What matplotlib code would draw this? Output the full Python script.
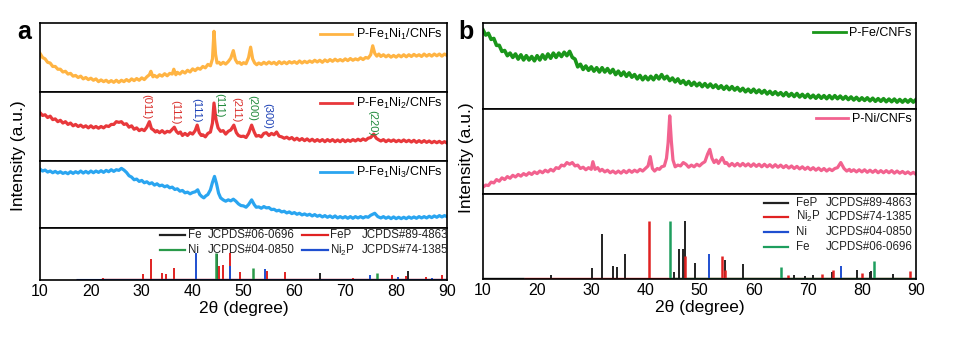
import matplotlib
matplotlib.use('Agg')
import matplotlib.pyplot as plt

plt.rcParams['font.family'] = ['Liberation Sans', 'DejaVu Sans']
plt.rcParams['mathtext.fontset'] = 'custom'
plt.rcParams['mathtext.rm'] = 'Liberation Sans'
plt.rcParams['mathtext.it'] = 'Liberation Sans:italic'
plt.rcParams['mathtext.bf'] = 'Liberation Sans:bold'

# ---------------- data (2theta in degrees, intensity in % of sub-panel) ----------------
x_ticks = [10, 20, 30, 40, 50, 60, 70, 80, 90]

# panel a
fe1ni1 = [(10, 56), (10.5, 50), (11, 48), (11.5, 43), (12, 42), (12.5, 37), (13, 37), (13.5, 33), (14, 33),
          (14.5, 29), (15, 30), (15.5, 26), (16, 27), (16.5, 23), (17, 24), (17.5, 21), (18, 23), (18.5, 19),
          (19, 21), (19.5, 18), (20, 20), (20.5, 17), (21, 19), (21.5, 15), (22, 17.5), (22.5, 15), (23, 17),
          (23.5, 14), (24, 16.5), (24.5, 14), (25, 17), (25.5, 14), (26, 17), (26.5, 15), (27, 18),
          (27.5, 15.5), (28, 19), (28.5, 16.5), (29, 19.5), (29.5, 17), (30, 20.5), (30.5, 18), (31, 22),
          (31.5, 25), (31.8, 30), (32.2, 22), (32.5, 24), (33, 21.5), (33.5, 25), (34, 23), (34.5, 26.5),
          (35, 23.5), (35.5, 27), (36, 26), (36.3, 33), (36.7, 25), (37, 28.5), (37.5, 26), (38, 30),
          (38.5, 27.5), (39, 31.5), (39.5, 29), (40, 33.5), (40.5, 31), (41, 34.5), (41.5, 33), (42, 37),
          (42.5, 35), (43, 40), (43.5, 38), (43.9, 48), (44.2, 88), (44.5, 55), (44.8, 42), (45.2, 43),
          (45.5, 40), (46, 43), (46.5, 40.5), (47, 44), (47.5, 49), (48.0, 60), (48.4, 47), (48.8, 42),
          (49.2, 43), (49.6, 40), (50, 42.5), (50.5, 41), (51.0, 50), (51.4, 65), (51.8, 48), (52.2, 42),
          (52.6, 39.5), (53, 42), (53.5, 40), (54, 43), (54.5, 40.5), (55, 43.5), (55.5, 41), (56, 43),
          (56.5, 40), (57, 44), (57.5, 41), (58, 43.5), (58.5, 41), (59, 44), (59.5, 42), (60, 44),
          (60.5, 41.5), (61, 45), (61.5, 42), (62, 44.5), (62.5, 42.5), (63, 45), (63.5, 43), (64, 46),
          (64.5, 43.5), (65, 46), (65.5, 43), (66, 46.5), (66.5, 44), (67, 47), (67.5, 44.5), (68, 47.5),
          (68.5, 45), (69, 47), (69.5, 45), (70, 48), (70.5, 45.5), (71, 48.5), (71.5, 46), (72, 48),
          (72.5, 46.5), (73, 49.5), (73.5, 47), (74, 50), (74.5, 49), (75, 54), (75.4, 67), (75.8, 56),
          (76.2, 52), (76.6, 55), (77, 51.5), (77.5, 54), (78, 51), (78.5, 53.5), (79, 50.5), (79.5, 53),
          (80, 50.5), (80.5, 53.5), (81, 51), (81.5, 54), (82, 51), (82.5, 54), (83, 51.5), (83.5, 54.5),
          (84, 52), (84.5, 54), (85, 51.5), (85.5, 55), (86, 52), (86.5, 54.5), (87, 52), (87.5, 55),
          (88, 52.5), (88.5, 55), (89, 52), (89.5, 55), (90, 53)]

fe1ni2 = [(10, 70), (10.5, 66), (11, 67), (11.5, 63), (12, 65), (12.5, 60), (13, 61), (13.5, 57), (14, 59),
          (14.5, 55), (15, 57), (15.5, 53), (16, 55), (16.5, 51), (17, 53), (17.5, 50), (18, 52), (18.5, 49),
          (19, 51), (19.5, 48), (20, 51), (20.5, 48), (21, 50), (21.5, 47.5), (22, 50), (22.5, 48), (23, 51),
          (23.5, 50), (24, 53), (24.5, 53), (25, 57), (25.5, 56), (26, 57), (26.5, 53), (27, 54), (27.5, 49),
          (28, 51), (28.5, 46), (29, 48), (29.5, 44), (30, 46), (30.5, 44), (31, 49), (31.5, 57), (31.9, 47),
          (32.3, 45), (32.7, 42), (33, 44), (33.5, 41), (34, 44), (34.5, 40.5), (35, 43), (35.5, 42),
          (36, 46), (36.4, 49), (36.8, 43), (37.2, 40), (37.6, 42), (38, 37), (38.5, 40), (39, 37),
          (39.5, 41), (40, 39), (40.5, 44), (40.9, 52), (41.3, 41), (41.7, 37), (42, 38), (42.5, 35),
          (43, 40), (43.5, 42), (43.9, 55), (44.2, 84), (44.6, 60), (45, 48), (45.5, 43), (46, 44),
          (46.5, 39), (47, 43), (47.5, 45), (48.1, 52), (48.6, 41), (49, 37), (49.5, 35.5), (50, 36),
          (50.5, 34), (51, 40), (51.6, 52), (52.1, 42), (52.5, 36), (53, 37), (53.5, 35), (54, 40),
          (54.5, 41), (55, 37), (55.5, 40), (56, 38), (56.5, 42), (57, 36), (57.5, 35), (58, 33),
          (58.5, 34.5), (59, 32), (59.5, 34), (60, 30.5), (60.5, 33), (61, 30), (61.5, 32.5), (62, 29.5),
          (62.5, 32), (63, 29), (63.5, 31.5), (64, 28.5), (64.5, 31), (65, 28.5), (65.5, 31), (66, 28),
          (66.5, 31), (67, 28.5), (67.5, 31), (68, 28), (68.5, 30.5), (69, 28), (69.5, 31), (70, 28),
          (70.5, 30.5), (71, 28.5), (71.5, 31), (72, 29), (72.5, 31.5), (73, 29.5), (73.5, 32), (74, 30),
          (74.5, 33), (75, 34), (75.6, 39), (76.1, 33), (76.5, 31), (77, 29), (77.5, 31), (78, 28),
          (78.5, 30.5), (79, 28.5), (79.5, 30.5), (80, 28), (80.5, 30), (81, 28), (81.5, 30.5), (82, 28),
          (82.5, 30), (83, 27.5), (83.5, 30), (84, 27), (84.5, 29.5), (85, 27), (85.5, 29.5), (86, 27),
          (86.5, 29), (87, 26.5), (87.5, 28.5), (88, 26.5), (88.5, 28.5), (89, 26), (89.5, 28), (90, 26)]

fe1ni3 = [(10, 88), (10.5, 85), (11, 86.5), (11.5, 83.5), (12, 85), (12.5, 82.5), (13, 84.5), (13.5, 82),
          (14, 84), (14.5, 81.5), (15, 83), (15.5, 81), (16, 84), (16.5, 81.5), (17, 84), (17.5, 82),
          (18, 85), (18.5, 82), (19, 84.5), (19.5, 82), (20, 85), (20.5, 82.5), (21, 85), (21.5, 83),
          (22, 85.5), (22.5, 83), (23, 86), (23.5, 84), (24, 87), (24.5, 84.5), (25, 87), (25.5, 86),
          (26, 89), (26.5, 86.5), (27, 83), (27.5, 78), (28, 76), (28.5, 72), (29, 73), (29.5, 69.5),
          (30, 71), (30.5, 67.5), (31, 69), (31.5, 66), (32, 67.5), (32.5, 64), (33, 66), (33.5, 63),
          (34, 64), (34.5, 61.5), (35, 63), (35.5, 60), (36, 61), (36.5, 57.5), (37, 58.5), (37.5, 55),
          (38, 56), (38.5, 52.5), (39, 53.5), (39.5, 51), (40, 53), (40.5, 54), (41, 57), (41.4, 50),
          (41.8, 47), (42.2, 45), (42.6, 48), (43, 50), (43.5, 57), (43.9, 68), (44.3, 77), (44.7, 66),
          (45.1, 52), (45.5, 45), (46, 42), (46.5, 40), (47, 42), (47.5, 40.5), (48, 43), (48.5, 40),
          (49, 36), (49.5, 33.5), (50, 33), (50.5, 31), (51, 35), (51.6, 42), (52.1, 35), (52.5, 31),
          (53, 31.5), (53.5, 29.5), (54, 32), (54.5, 30), (55, 30.5), (55.5, 27.5), (56, 28), (56.5, 25.5),
          (57, 26.5), (57.5, 24), (58, 25), (58.5, 22.5), (59, 24), (59.5, 21.5), (60, 23), (60.5, 20.5),
          (61, 22), (61.5, 19.5), (62, 21), (62.5, 19), (63, 20.5), (63.5, 18), (64, 20), (64.5, 17.5),
          (65, 19), (65.5, 16.5), (66, 18.5), (66.5, 16), (67, 18), (67.5, 15.5), (68, 18), (68.5, 15),
          (69, 17), (69.5, 15), (70, 17), (70.5, 14.5), (71, 17), (71.5, 14.5), (72, 17), (72.5, 15),
          (73, 17), (73.5, 15), (74, 17), (74.5, 16), (75, 19), (75.8, 22), (76.4, 17), (77, 15),
          (77.5, 17), (78, 14.5), (78.5, 16.5), (79, 14), (79.5, 16.5), (80, 14), (80.5, 16), (81, 14),
          (81.5, 16), (82, 14), (82.5, 16.5), (83, 14.5), (83.5, 16.5), (84, 14.5), (84.5, 17), (85, 15),
          (85.5, 17), (86, 15), (86.5, 17.5), (87, 15.5), (87.5, 18), (88, 16), (88.5, 18.5), (89, 16.5),
          (89.5, 18.5), (90, 17)]

# reference sticks, panel a: (2theta, relative height %)
a_fe_sticks = [(44.7, 50), (65.0, 12.8), (82.4, 16)]
a_fep_sticks = [(22.4, 2), (30.2, 11), (31.9, 40), (34.0, 12.8), (34.7, 11), (36.3, 22), (45.2, 25.6),
                (46.0, 27), (47.3, 51), (49.3, 15), (54.7, 16), (58.1, 14), (71.5, 2), (79.2, 8),
                (81.9, 6), (85.9, 4), (89.1, 7.7)]
a_ni_sticks = [(44.5, 51), (51.9, 22), (76.3, 11.5)]
a_ni2p_sticks = [(40.65, 51), (47.35, 25), (54.2, 20), (74.8, 8), (80.3, 5), (87.0, 3)]

# hkl labels in panel a
hkl_labels = ["(011)", "(111)", "(111)", "(111)", "(211)", "(200)", "(300)", "(220)"]
hkl_x = [30.8, 36.5, 40.7, 45.3, 48.5, 51.8, 54.6, 75.4]
hkl_top = [97, 88, 91, 99, 93, 96, 84, 74]
hkl_phase = ["FeP", "FeP", "Ni2P", "Ni", "FeP", "Ni", "Ni2P", "Ni"]

# panel b
p_fe = [(10, 92), (10.5, 86), (11, 88), (11.5, 81), (12, 82), (12.5, 74), (13, 74), (13.5, 67), (14, 68),
        (14.5, 62), (15, 65), (15.5, 60), (16, 64), (16.5, 58), (17, 63), (17.5, 57), (18, 62), (18.5, 57),
        (19, 61), (19.5, 56), (20, 62), (20.5, 57), (21, 63), (21.5, 58), (22, 64), (22.5, 59), (23, 65),
        (23.5, 60), (24, 65), (24.5, 61), (25, 66), (25.5, 62), (26, 67), (26.5, 60), (27, 58), (27.5, 49),
        (28, 52), (28.5, 46), (29, 50), (29.5, 45), (30, 49), (30.5, 44), (31, 48), (31.5, 43), (32, 48),
        (32.5, 43), (33, 47), (33.5, 42), (34, 46), (34.5, 40), (35, 44), (35.5, 39), (36, 43), (36.5, 38),
        (37, 42), (37.5, 37), (38, 40), (38.5, 35), (39, 39), (39.5, 34), (40, 38), (40.5, 34), (41, 38),
        (41.5, 34), (42, 39), (42.5, 35), (43, 40), (43.5, 35), (44, 38), (44.5, 33), (45, 36),
        (45.5, 31.5), (46, 35), (46.5, 30), (47, 33), (47.5, 28.5), (48, 32), (48.5, 27.5), (49, 31),
        (49.5, 27), (50, 30), (50.5, 26), (51, 29.5), (51.5, 25.5), (52, 29), (52.5, 25), (53, 28),
        (53.5, 24), (54, 27), (54.5, 23), (55, 26.5), (55.5, 22.5), (56, 26), (56.5, 22), (57, 25),
        (57.5, 21), (58, 24), (58.5, 20), (59, 23), (59.5, 19.5), (60, 23), (60.5, 19), (61, 22),
        (61.5, 18.5), (62, 21.5), (62.5, 17.5), (63, 20.5), (63.5, 17), (64, 20), (64.5, 16.5), (65, 19),
        (65.5, 15.5), (66, 19), (66.5, 15), (67, 18), (67.5, 14.5), (68, 18), (68.5, 14), (69, 17),
        (69.5, 13.5), (70, 17), (70.5, 13), (71, 16), (71.5, 12.5), (72, 16), (72.5, 12.5), (73, 15.5),
        (73.5, 12), (74, 15.5), (74.5, 12), (75, 15.5), (75.5, 12), (76, 15), (76.5, 11.5), (77, 14.5),
        (77.5, 11), (78, 14), (78.5, 10.5), (79, 13.5), (79.5, 10), (80, 13), (80.5, 10), (81, 13),
        (81.5, 9.5), (82, 12.5), (82.5, 9), (83, 12), (83.5, 9), (84, 12), (84.5, 8.5), (85, 11.5),
        (85.5, 8.5), (86, 11.5), (86.5, 8), (87, 11), (87.5, 8), (88, 11), (88.5, 8), (89, 11), (89.5, 8),
        (90, 11)]

p_ni = [(10, 8), (10.5, 10.5), (11, 10), (11.5, 14), (12, 13), (12.5, 17), (13, 15), (13.5, 19), (14, 17),
        (14.5, 20.5), (15, 18.5), (15.5, 22), (16, 20), (16.5, 23), (17, 21), (17.5, 24), (18, 22),
        (18.5, 25), (19, 23), (19.5, 26), (20, 24), (20.5, 27), (21, 25), (21.5, 28), (22, 26), (22.5, 29),
        (23, 27), (23.5, 31), (24, 30), (24.5, 34), (25, 33), (25.5, 37), (26, 35), (26.5, 37), (27, 33),
        (27.5, 34), (28, 30), (28.5, 31.5), (29, 28.5), (29.5, 31), (30, 29), (30.3, 38), (30.7, 29),
        (31.2, 31), (31.6, 27), (32, 29), (32.5, 26), (33, 28), (33.5, 25), (34, 27), (34.5, 24.5),
        (35, 27), (35.5, 24.5), (36, 27.5), (36.5, 25), (37, 28), (37.5, 25.5), (38, 28), (38.5, 26),
        (39, 29), (39.5, 27), (40, 30), (40.5, 33), (40.9, 44), (41.3, 30), (41.7, 27), (42.2, 30),
        (42.6, 29), (43, 32), (43.5, 33), (43.9, 42), (44.2, 60), (44.5, 92), (44.8, 62), (45.1, 40),
        (45.5, 32), (46, 34), (46.5, 33), (47, 37), (47.5, 35), (48, 31.5), (48.5, 34), (49, 32),
        (49.5, 35), (50, 33), (50.5, 36), (51, 38), (51.5, 47), (51.9, 52.5), (52.3, 42), (52.7, 37),
        (53.1, 40), (53.5, 36), (54.2, 43), (54.7, 36), (55, 37), (55.5, 33), (56, 36), (56.5, 33),
        (57, 36), (57.5, 33), (58, 36), (58.5, 33), (59, 35.5), (59.5, 32.5), (60, 35.5), (60.5, 32.5),
        (61, 35), (61.5, 32), (62, 35), (62.5, 32), (63, 34.5), (63.5, 31.5), (64, 34.5), (64.5, 31.5),
        (65, 34), (65.5, 31), (66, 33.5), (66.5, 30.5), (67, 33), (67.5, 30), (68, 32.5), (68.5, 29.5),
        (69, 32), (69.5, 29), (70, 31.5), (70.5, 28.5), (71, 31), (71.5, 28), (72, 30.5), (72.5, 27.5),
        (73, 30), (73.5, 27), (74, 29.5), (74.5, 27.5), (75, 30), (75.5, 31), (76.1, 37), (76.7, 30),
        (77.2, 27), (77.7, 29), (78, 26.5), (78.5, 28.5), (79, 26), (79.5, 28.5), (80, 26), (80.5, 28.5),
        (81, 25.5), (81.5, 28), (82, 25.5), (82.5, 28), (83, 25), (83.5, 27.5), (84, 25), (84.5, 27.5),
        (85, 25), (85.5, 27.5), (86, 24.5), (86.5, 27), (87, 24.5), (87.5, 26.5), (88, 24), (88.5, 26),
        (89, 23.5), (89.5, 25.5), (90, 23)]

b_fep_sticks = [(22.6, 4), (30.1, 11.8), (31.9, 51.8), (34.0, 14.5), (34.7, 12.5), (36.3, 29), (45.2, 6.7),
                (46.2, 34), (46.9, 35), (47.4, 67.5), (49.2, 17.6), (54.7, 21), (58.0, 16.5), (67.5, 3),
                (69.5, 2.5), (71.0, 3), (74.5, 6.7), (79.1, 9.8), (81.5, 6.7), (81.7, 7.8), (85.7, 4.7)]
b_ni2p_sticks = [(40.7, 67.5), (47.3, 26), (54.1, 26), (54.8, 9.4), (66.3, 4), (72.6, 4.7), (74.6, 9.8),
                 (80.1, 5.9), (88.8, 7.8)]
b_ni_sticks = [(51.8, 29), (76.2, 14.5)]
b_fe_sticks = [(44.6, 67.5), (65.0, 13.3), (82.3, 20)]

a_ref_names = ["Fe", "FeP", "Ni", "Ni$_2$P"]
a_ref_cards = ["JCPDS#06-0696", "JCPDS#89-4863", "JCPDS#04-0850", "JCPDS#74-1385"]
b_ref_names = ["FeP", "Ni$_2$P", "Ni", "Fe"]
b_ref_cards = ["JCPDS#89-4863", "JCPDS#74-1385", "JCPDS#04-0850", "JCPDS#06-0696"]

# ---------------- styles ----------------
C_ORANGE = '#FFB443'
C_RED = '#E8383B'
C_BLUE = '#2AA5F0'
C_GREEN = '#1A961A'
C_PINK = '#F2628F'
S_BLACK = '#222222'
S_RED = '#E02222'
S_GREEN_A = '#2A9A4A'
S_BLUE = '#1F4FD0'
S_GREEN_B = '#1E9E5E'
HKL_COL = {"FeP": '#D9302C', "Ni2P": '#1A3FB5', "Ni": '#218A3C'}

W, H = 955, 338
fig = plt.figure(figsize=(W / 100, H / 100), dpi=100)


def add_ax(x0, x1, y0, y1):
    ax = fig.add_axes([x0 / W, 1 - y1 / H, (x1 - x0) / W, (y1 - y0) / H])
    ax.set_xlim(10, 90)
    ax.set_yticks([])
    ax.set_xticks(x_ticks)
    ax.tick_params(axis='x', length=0, labelbottom=False, labelsize=11.5, pad=3)
    for s in ax.spines.values():
        s.set_linewidth(1.2)
    return ax


def unzip(pairs):
    return [p[0] for p in pairs], [p[1] for p in pairs]


def draw_series(ax, data, color, label, lw=2.3):
    xs, ys = unzip(data)
    ax.plot(xs, ys, color=color, lw=lw, solid_joinstyle='round', label=label)
    ax.set_ylim(0, 100)
    leg = ax.legend(loc='upper right', frameon=False, fontsize=9, handlelength=2.6,
                    handletextpad=0.3, borderaxespad=0.15, borderpad=0.2)
    for h in leg.legend_handles:
        h.set_linewidth(2.0)


def draw_sticks(ax, sticks, color, lw=1.4):
    xs, hs = unzip(sticks)
    ax.vlines(xs, 0, hs, color=color, lw=lw)


def manual_legend(ax, rows_y, cols, names, cards, colors):
    for i, (nm, cd, col) in enumerate(zip(names, cards, colors)):
        ry = rows_y[i]
        hx0, hx1, nx, cx = cols[i]
        ax.plot([hx0, hx1], [ry, ry], color=col, lw=1.6, transform=ax.transAxes, clip_on=False)
        ax.text(nx, ry, nm, transform=ax.transAxes, fontsize=8.3, va='center', ha='left', color='#222222')
        ax.text(cx, ry, cd, transform=ax.transAxes, fontsize=8.3, va='center', ha='left', color='#222222')


# ---------------- panel a ----------------
LA, RA = 40, 447
a1 = add_ax(LA, RA, 23, 92)
draw_series(a1, fe1ni1, C_ORANGE, 'P-Fe$_1$Ni$_1$/CNFs')
a2 = add_ax(LA, RA, 92, 161)
draw_series(a2, fe1ni2, C_RED, 'P-Fe$_1$Ni$_2$/CNFs')
for t, x, yt, ph in zip(hkl_labels, hkl_x, hkl_top, hkl_phase):
    a2.text(x, yt, t, rotation=270, ha='center', va='top', fontsize=8, color=HKL_COL[ph])
a3 = add_ax(LA, RA, 161, 228)
draw_series(a3, fe1ni3, C_BLUE, 'P-Fe$_1$Ni$_3$/CNFs')
a4 = add_ax(LA, RA, 228, 280)
a4.set_ylim(-1.5, 100)
a4.hlines(0, 22, 90, color=S_RED, lw=1.0)
a4.hlines(0, 17, 90, color=S_BLUE, lw=0.8)
draw_sticks(a4, a_fep_sticks, S_RED)
draw_sticks(a4, a_ni2p_sticks, S_BLUE)
draw_sticks(a4, a_fe_sticks, S_BLACK)
draw_sticks(a4, a_ni_sticks, S_GREEN_A, lw=1.8)
a4.tick_params(axis='x', labelbottom=True)
a4.set_xlabel('2\u03b8 (degree)', fontsize=12.5, labelpad=1)
manual_legend(a4, [0.865, 0.865, 0.577, 0.577],
              [(0.295, 0.356, 0.364, 0.413), (0.644, 0.708, 0.713, 0.791),
               (0.295, 0.356, 0.364, 0.413), (0.644, 0.708, 0.713, 0.791)],
              a_ref_names, a_ref_cards, [S_BLACK, S_RED, S_GREEN_A, S_BLUE])

# ---------------- panel b ----------------
LB, RB = 483, 916
b1 = add_ax(LB, RB, 23, 109)
draw_series(b1, p_fe, C_GREEN, 'P-Fe/CNFs', lw=2.6)
b2 = add_ax(LB, RB, 109, 194)
draw_series(b2, p_ni, C_PINK, 'P-Ni/CNFs')
b3 = add_ax(LB, RB, 194, 279)
b3.set_ylim(-1.2, 100)
b3.hlines(0, 10, 17.5, color=S_BLACK, lw=1.0)
b3.hlines(0, 17.5, 90, color=S_RED, lw=1.0)
b3.hlines(0, 44.6, 90, color=S_GREEN_B, lw=1.0)
draw_sticks(b3, b_fep_sticks, S_BLACK)
draw_sticks(b3, b_ni2p_sticks, S_RED, lw=1.8)
draw_sticks(b3, b_ni_sticks, S_BLUE)
draw_sticks(b3, b_fe_sticks, S_GREEN_B, lw=1.8)
b3.tick_params(axis='x', labelbottom=True)
b3.set_xlabel('2\u03b8 (degree)', fontsize=12.5, labelpad=1)
manual_legend(b3, [0.898, 0.733, 0.55, 0.38],
              [(0.649, 0.704, 0.722, 0.792)] * 4,
              b_ref_names, b_ref_cards, [S_BLACK, S_RED, S_BLUE, S_GREEN_B])

# ---------------- labels ----------------
fig.text(18 / W, 1 - 156 / H, 'Intensity (a.u.)', rotation=90, ha='center', va='center', fontsize=12.5)
fig.text(466 / W, 1 - 158 / H, 'Intensity (a.u.)', rotation=90, ha='center', va='center', fontsize=12.5)
fig.text(24 / W, 1 - 32 / H, 'a', ha='center', va='center', fontsize=18, fontweight='bold')
fig.text(466 / W, 1 - 32 / H, 'b', ha='center', va='center', fontsize=18, fontweight='bold')

fig.savefig('out.png', dpi=100)
